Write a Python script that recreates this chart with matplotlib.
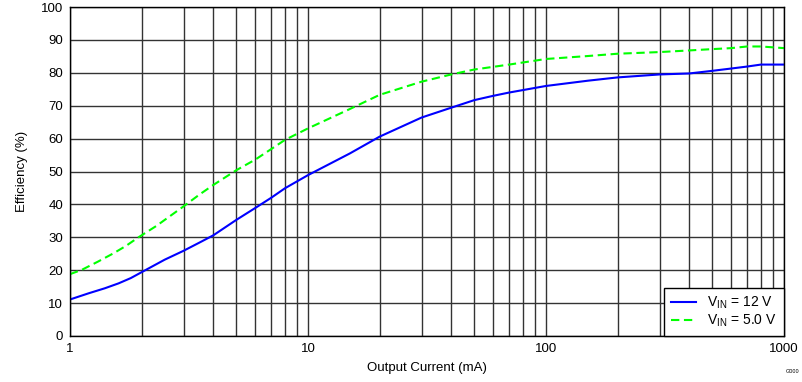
"""
Efficiency vs output current, two input voltages.
"""

import matplotlib
matplotlib.use("Agg")
import matplotlib.pyplot as plt
from matplotlib.ticker import FixedLocator, FixedFormatter, NullFormatter

# ── data ─────────────────────────────────────────────────────────────────────
i_12v   = [1, 1.2, 1.4, 1.6, 1.8, 2, 2.5, 3, 3.5, 4, 5, 6, 7, 8, 10, 15, 20,
           30, 40, 50, 60, 70, 100, 150, 200, 300, 400, 500, 600, 700, 800, 1000]
eff_12v = [11.1, 13.0, 14.5, 16.0, 17.6, 19.4, 23.2, 25.9, 28.4, 30.6, 35.3,
           38.9, 42.0, 44.9, 48.9, 55.5, 60.6, 66.4, 69.4, 71.7, 73.0, 74.0,
           76.0, 77.6, 78.6, 79.5, 79.8, 80.6, 81.3, 81.9, 82.5, 82.5]

i_5v    = [1, 1.12, 1.31, 1.52, 1.72, 1.93, 2.3, 3, 3.5, 4, 5, 6, 7, 8, 10, 15,
           20, 30, 40, 50, 70, 100, 150, 200, 300, 400, 500, 600, 700, 800, 1000]
eff_5v  = [18.8, 20.1, 22.6, 25.1, 27.4, 29.9, 33.4, 39.4, 43.0, 45.9, 50.4,
           53.6, 56.8, 59.6, 63.1, 69.0, 73.3, 77.3, 79.5, 81.0, 82.5, 84.2,
           85.1, 85.8, 86.3, 86.8, 87.2, 87.5, 88.0, 88.0, 87.5]

labels  = [r"V$_{\mathrm{IN}}$ = 12 V", r"V$_{\mathrm{IN}}$ = 5.0 V"]
x_ticks = [1, 10, 100, 1000]
y_ticks = list(range(0, 101, 10))

# ── style ────────────────────────────────────────────────────────────────────
plt.rcParams["font.family"] = ["Liberation Sans", "DejaVu Sans"]
plt.rcParams["mathtext.fontset"] = "custom"
plt.rcParams["mathtext.rm"] = "Liberation Sans"
plt.rcParams["mathtext.it"] = "Liberation Sans:italic"
plt.rcParams["font.size"] = 9

W, H = 803, 382
fig = plt.figure(figsize=(W / 100, H / 100), dpi=100)
ax = fig.add_axes([70 / W, (H - 336) / H, 714 / W, 329 / H])

ax.plot(i_12v, eff_12v, color="#0000FF", lw=1.5, label=labels[0])
ax.plot(i_5v, eff_5v, color="#00FF00", lw=1.5, dashes=(4, 2.2), label=labels[1])

ax.set_xscale("log")
ax.set_xlim(1, 1000)
ax.set_ylim(0, 100)
ax.xaxis.set_major_locator(FixedLocator(x_ticks))
ax.xaxis.set_major_formatter(FixedFormatter([str(t) for t in x_ticks]))
ax.xaxis.set_minor_formatter(NullFormatter())
ax.set_yticks(y_ticks)

ax.grid(True, which="both", axis="x", color="#333333", lw=1)
ax.grid(True, which="major", axis="y", color="#333333", lw=1)
ax.set_axisbelow(True)
ax.tick_params(which="both", length=0, pad=5, labelsize=9.5)
for s in ax.spines.values():
    s.set_color("black")
    s.set_linewidth(1)

ax.set_xlabel("Output Current (mA)", fontsize=9.5, labelpad=5)
ax.set_ylabel("Efficiency (%)", fontsize=9.5, labelpad=9)

leg = ax.legend(loc="lower right", bbox_to_anchor=(1, 0), borderaxespad=0,
                fancybox=False, framealpha=1, edgecolor="black",
                fontsize=10, handlelength=1.8, handletextpad=0.8,
                borderpad=0.5, labelspacing=0.1)
leg.get_frame().set_linewidth(1)

fig.text(0.995, 0.02, "G000", fontsize=4, ha="right", va="bottom")

fig.savefig("out.png", dpi=100)
